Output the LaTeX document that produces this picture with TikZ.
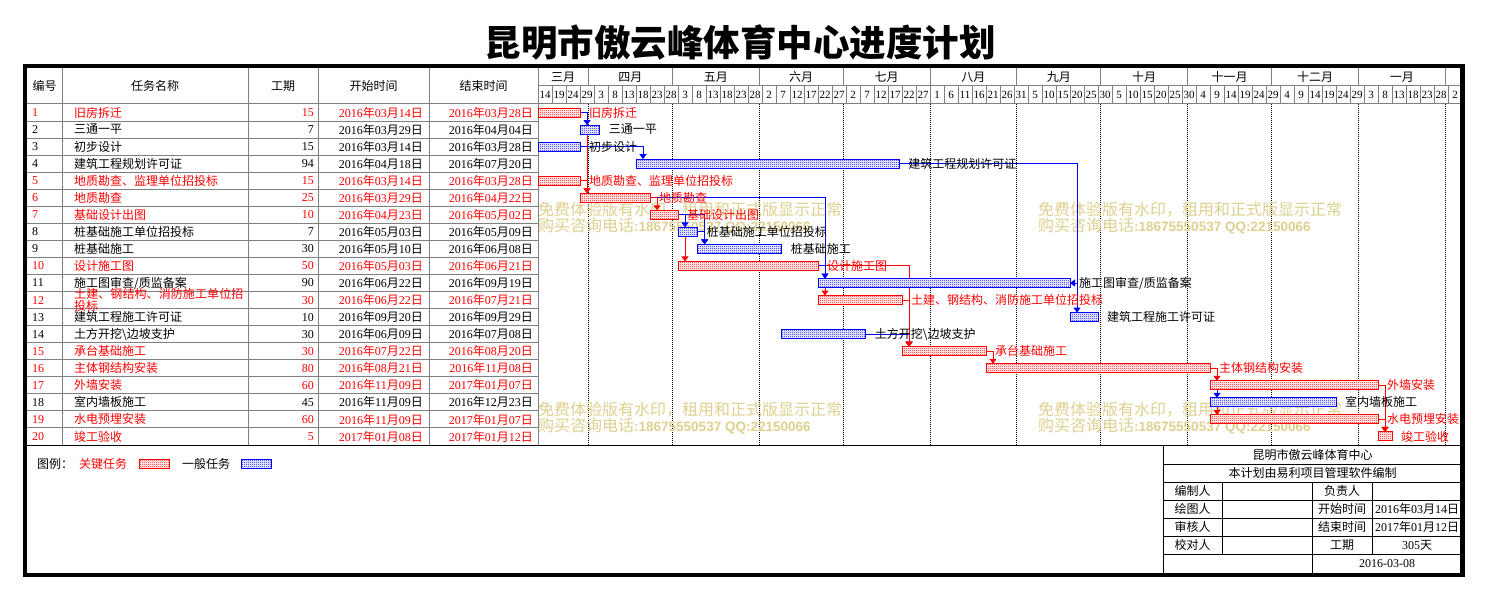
\documentclass[tikz,border=0pt]{standalone}
\usepackage{fontspec}
\setmainfont{Liberation Serif}
\newfontfamily\cjk{Noto Sans CJK SC}
\newfontfamily\wmsans{Liberation Sans}
\XeTeXlinebreaklocale "zh"
\XeTeXlinebreakskip=0pt plus 1pt
\usetikzlibrary{arrows.meta,patterns}
\pgfdeclarelayer{bg}
\pgfsetlayers{bg,main}
\pgfdeclarepatternformonly{checker}{\pgfpointorigin}{\pgfqpoint{2pt}{2pt}}{\pgfqpoint{2pt}{2pt}}{%
  \pgfpathrectangle{\pgfpointorigin}{\pgfqpoint{1pt}{1pt}}%
  \pgfpathrectangle{\pgfqpoint{1pt}{1pt}}{\pgfqpoint{1pt}{1pt}}%
  \pgfusepath{fill}}
\definecolor{tblgray}{RGB}{128,128,128}
\definecolor{wmtan}{RGB}{221,208,142}
\newcommand\ymd[3]{#1{\cjk 年}#2{\cjk 月}#3{\cjk 日}}
\tikzset{
  gridline/.style={draw=tblgray, line width=1pt},
  rule/.style={draw=black, line width=1pt},
  cell/.style={inner sep=0pt, font=\fontsize{12}{12}\selectfont},
  cjkcell/.style={inner sep=0pt, font=\cjk\fontsize{12}{12}\selectfont},
  keytask/.style={text=red},
  gentask/.style={text=black},
  bar/.style={rectangle, inner sep=0pt, outer sep=0pt, minimum height=9pt, line width=1pt,
    anchor=west, preaction={fill=white}, pattern=checker},
  keytaskbar/.style={bar, draw=red, pattern color=red},
  gentaskbar/.style={bar, draw=blue, pattern color=blue},
  keylink/.style={draw=red, line width=1pt, -{Triangle[length=5pt,width=7pt]}},
  genlink/.style={draw=blue, line width=1pt, -{Triangle[length=5pt,width=7pt]}},
  monthline/.style={draw=black, line width=1pt, dash pattern=on 1pt off 1pt},
  watermark/.style={inner sep=0pt, anchor=west, align=left, text=wmtan,
    font=\cjk\fontsize{16}{16}\selectfont},
}
\begin{document}
\begin{tikzpicture}[x=1pt, y=-1pt]
\useasboundingbox (0,0) rectangle (1486,599);

\node (title) at (740,42) [font=\cjk\bfseries\fontsize{36.5}{36.5}\selectfont] {昆明市傲云峰体育中心进度计划};

\foreach \hx/\hname [count=\h] in {44.5/编号, 155/任务名称, 283/工期, 373.5/开始时间, 483.5/结束时间}
  \node (h\h) [cjkcell] at (\hx,86) {\hname};
\foreach \x in {62,248,318,429,538}
  \draw[gridline] (\x,68) -- (\x,445);
\foreach \rw in {0,...,19}
  \draw[gridline] (27,{104+17.05*\rw}) -- (538,{104+17.05*\rw});
\draw[gridline] (538,86) -- (1462,86) (538,104) -- (1462,104);

\foreach \ma/\mb/\mn [count=\m] in {0/18/三月, 18/48/四月, 48/79/五月, 79/109/六月, 109/140/七月,
    140/171/八月, 171/201/九月, 201/232/十月, 232/262/十一月, 262/293/十二月, 293/324/一月}{
  \node (m\m) [cjkcell] at ({538+1.4*(\ma+\mb)},77) {\mn};
  \draw[gridline] ({538+2.8*\mb},68) -- ({538+2.8*\mb},86);
  \begin{pgfonlayer}{bg}
    \draw[monthline] ({538+2.8*\mb},104) -- ({538+2.8*\mb},445);
  \end{pgfonlayer}
}
\foreach \dn [count=\dc from 0] in {14,19,24,29,3,8,13,18,23,28,3,8,13,18,23,28,2,7,12,17,22,27,
    2,7,12,17,22,27,1,6,11,16,21,26,31,5,10,15,20,25,30,5,10,15,20,25,30,4,9,14,19,24,29,
    4,9,14,19,24,29,3,8,13,18,23,28,2}{
  \node (dd\dc) [cell, font=\fontsize{11}{11}\selectfont] at ({545+14*\dc},95) {\dn};
  \draw[gridline] ({552+14*\dc},86) -- ({552+14*\dc},104);
}

\begin{pgfonlayer}{bg}
\foreach \wx/\wy [count=\w] in {538/218, 1038/218, 538/418, 1038/418}
  \node (wm\w) [watermark] at (\wx,\wy) {免费体验版有水印，租用和正式版显示正常\\购买咨询电话{\wmsans\bfseries\fontsize{13.5}{16}\selectfont :18675550537 QQ:22150066}};
\end{pgfonlayer}

\foreach \i/\nm/\du/\st/\ya/\ma/\da/\yb/\mb/\db/\kind in {
    1/旧房拆迁/15/0/2016/03/14/2016/03/28/keytask,
    2/三通一平/7/15/2016/03/29/2016/04/04/gentask,
    3/初步设计/15/0/2016/03/14/2016/03/28/gentask,
    4/建筑工程规划许可证/94/35/2016/04/18/2016/07/20/gentask,
    5/地质勘查、监理单位招投标/15/0/2016/03/14/2016/03/28/keytask,
    6/地质勘查/25/15/2016/03/29/2016/04/22/keytask,
    7/基础设计出图/10/40/2016/04/23/2016/05/02/keytask,
    8/桩基础施工单位招投标/7/50/2016/05/03/2016/05/09/gentask,
    9/桩基础施工/30/57/2016/05/10/2016/06/08/gentask,
    10/设计施工图/50/50/2016/05/03/2016/06/21/keytask,
    11/{施工图审查/质监备案}/90/100/2016/06/22/2016/09/19/gentask,
    12/土建、钢结构、消防施工单位招投标/30/100/2016/06/22/2016/07/21/keytask,
    13/建筑工程施工许可证/10/190/2016/09/20/2016/09/29/gentask,
    14/土方开挖\textbackslash 边坡支护/30/87/2016/06/09/2016/07/08/gentask,
    15/承台基础施工/30/130/2016/07/22/2016/08/20/keytask,
    16/主体钢结构安装/80/160/2016/08/21/2016/11/08/keytask,
    17/外墙安装/60/240/2016/11/09/2017/01/07/keytask,
    18/室内墙板施工/45/240/2016/11/09/2016/12/23/gentask,
    19/水电预埋安装/60/240/2016/11/09/2017/01/07/keytask,
    20/竣工验收/5/300/2017/01/08/2017/01/12/keytask}{
  \pgfmathsetmacro\yc{95.475+17.05*\i}
  \node (n\i) [cell, \kind, anchor=west] at (32,\yc) {\i};
  \node (t\i) [cjkcell, \kind, anchor=west, text width=172pt, align=left] at (74,\yc) {\nm};
  \node (g\i) [cell, \kind, anchor=east] at (314,\yc) {\du};
  \node (s\i) [cell, \kind, anchor=east] at (423,\yc) {\ymd{\ya}{\ma}{\da}};
  \node (e\i) [cell, \kind, anchor=east] at (533,\yc) {\ymd{\yb}{\mb}{\db}};
  \node (b\i) [\kind bar, minimum width={2.8pt*\du}] at ({538+2.8*\st},\yc) {};
  \coordinate (in\i) at ([xshift=7pt]b\i.north west);
  \node (l\i) [cjkcell, \kind, anchor=west] at ([xshift=9pt]b\i.east) {\nm};
}

\begin{pgfonlayer}{bg}
\draw[keylink] (b19.east) -| (in20);
\draw[keylink] (b17.east) -| (in20);
\draw[keylink] (b16.east) -| (in19);
\draw[genlink] (b16.east) -| (in18);
\draw[keylink] (b16.east) -| (in17);
\draw[keylink] (b15.east) -| (in16);
\draw[genlink] (b14.east) -| (in15);
\draw[keylink] (b12.east) -| (in15);
\draw[keylink] (b10.east) -| (in15);
\draw[genlink] (b4.east) -| (in13);
\draw[genlink] (in13 |- b11.east) -- (b11.east);
\draw[keylink] (b10.east) -| (in12);
\draw[genlink] (b10.east) -| (in11);
\draw[genlink] (b6.east) -| (in11);
\draw[keylink] (b7.east) -| (in10);
\draw[genlink] (b8.east) -| (in9);
\draw[genlink] (b7.east) -| (in9);
\draw[genlink] (b7.east) -| (in8);
\draw[keylink] (b6.east) -| (in7);
\draw[keylink] (b5.east) -| (in6);
\draw[keylink] (b1.east) -| (in6);
\draw[genlink] (b3.east) -| (in4);
\draw[genlink] (b1.east) -| (in2);
\end{pgfonlayer}

\draw[rule] (27,445) -- (1462,445);

\node (lg0) [cjkcell, anchor=west] at (37,464) {图例：};
\node (lg1) [cjkcell, keytask, anchor=west] at (79,464) {关键任务};
\node (lg2) [keytaskbar, minimum width=30pt] at (139,464) {};
\node (lg3) [cjkcell, anchor=west] at (182,464) {一般任务};
\node (lg4) [gentaskbar, minimum width=30pt] at (241,464) {};

\draw[rule] (1163,445) -- (1163,575);
\foreach \fy in {464,482,500,518,536,554}
  \draw[rule] (1163,\fy) -- (1462,\fy);
\draw[rule] (1222,482) -- (1222,554) (1372,482) -- (1372,554) (1312,482) -- (1312,575);
\node (f1) [cjkcell] at (1312.5,454.5) {昆明市傲云峰体育中心};
\node (f2) [cjkcell] at (1312.5,473) {本计划由易利项目管理软件编制};
\foreach \fa/\fb/\fc [count=\frow] in {491/编制人/负责人, 509/绘图人/开始时间, 527/审核人/结束时间, 545/校对人/工期}{
  \node (fl\frow) [cjkcell] at (1192.5,\fa) {\fb};
  \node (fm\frow) [cjkcell] at (1342,\fa) {\fc};
}
\node (fv2) [cell] at (1417,509) {\ymd{2016}{03}{14}};
\node (fv3) [cell] at (1417,527) {\ymd{2017}{01}{12}};
\node (fv4) [cell] at (1417,545) {305{\cjk 天}};
\node (fdate) [cell] at (1387,563.5) {2016-03-08};

\draw[line width=4.5pt] (25,66) rectangle (1462.5,575);
\end{tikzpicture}
\end{document}
